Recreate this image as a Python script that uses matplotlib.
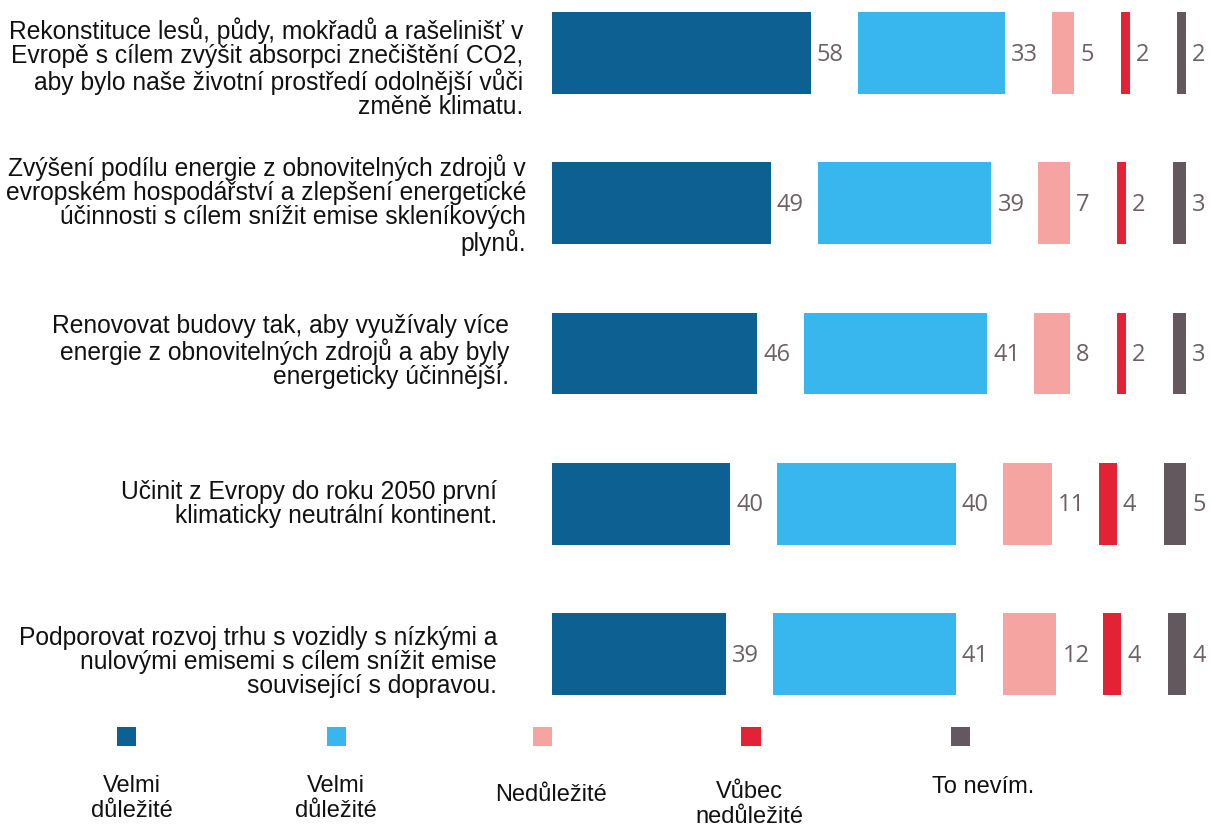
import numpy as np
import matplotlib
matplotlib.use('Agg')
import matplotlib.pyplot as plt
from matplotlib.patches import Rectangle

W, H = 1212, 827

questions = [
    'Rekonstituce lesů, půdy, mokřadů a rašelinišť v\nEvropě s cílem zvýšit absorpci znečištění CO2,\naby bylo naše životní prostředí odolnější vůči\nzměně klimatu.',
    'Zvýšení podílu energie z obnovitelných zdrojů v\nevropském hospodářství a zlepšení energetické\núčinnosti s cílem snížit emise skleníkových\nplynů.',
    'Renovovat budovy tak, aby využívaly více\nenergie z obnovitelných zdrojů a aby byly\nenergeticky účinnější.',
    'Učinit z Evropy do roku 2050 první\nklimaticky neutrální kontinent.',
    'Podporovat rozvoj trhu s vozidly s nízkými a\nnulovými emisemi s cílem snížit emise\nsouvisející s dopravou.',
]
velmi_dulezite_1 = [58, 49, 46, 40, 39]
velmi_dulezite_2 = [33, 39, 41, 40, 41]
nedulezite = [5, 7, 8, 11, 12]
vubec_nedulezite = [2, 2, 2, 4, 4]
nevim = [2, 3, 3, 5, 4]

series = [velmi_dulezite_1, velmi_dulezite_2, nedulezite, vubec_nedulezite, nevim]
legend_labels = ['Velmi\ndůležité', 'Velmi\ndůležité', 'Nedůležité', 'Vůbec\nnedůležité', 'To nevím.']
colors = ['#0c6192', '#38b7ef', '#f5a4a2', '#e42236', '#62585e']

# layout (pixels)
px_per_unit = 4.46
gap = 47 / px_per_unit
x0 = 552
label_right = [523, 526, 509, 497, 497]
label_dy = [0.10, 0.013, -0.013, 0.0, 0.053]

fig = plt.figure(figsize=(W / 100, H / 100), dpi=100)
ax = fig.add_axes([x0 / W, 1 - 720 / H, (W - x0) / W, 720 / H])
ax.set_xlim(0, (W - x0) / px_per_unit)
ax.set_ylim(4.44, -0.353)
ax.axis('off')

y = np.arange(len(questions))
left = np.zeros(len(questions))
for vals, c in zip(series, colors):
    vals = np.array(vals, dtype=float)
    ax.barh(y, vals, left=left, height=0.545, color=c, edgecolor='none')
    for yi, l, v in zip(y, left, vals):
        ax.text(l + v + 6 / px_per_unit, yi + 0.012, f'{int(v)}', va='center', ha='left',
                fontsize=17, color='#6b6064', family='Open Sans')
    left = left + vals + gap

# question labels
for yi, q, xr, dy in zip(y, questions, label_right, label_dy):
    ax.annotate(q, xy=(0, yi + dy), xycoords='data',
                xytext=(xr - x0, 0), textcoords='offset pixels',
                ha='right', va='center', fontsize=17.7, linespacing=1.0,
                color='#111111', family='Liberation Sans')

# legend
leg_x = [126, 336, 542, 751, 960]
leg_txt_x = [132, 336, 551, 749, 983]
leg_txt_top = [775, 775, 784, 781, 776]
for lx, tx, tt, lab, c in zip(leg_x, leg_txt_x, leg_txt_top, legend_labels, colors):
    fig.add_artist(Rectangle(((lx - 9.5) / W, 1 - 746 / H), 19 / W, 19 / H,
                             transform=fig.transFigure, color=c, lw=0))
    fig.text(tx / W, 1 - tt / H, lab, ha='center', va='top', fontsize=17,
             linespacing=1.17, color='#111111', family='Liberation Sans')

fig.savefig('out.png', dpi=100, facecolor='white')
